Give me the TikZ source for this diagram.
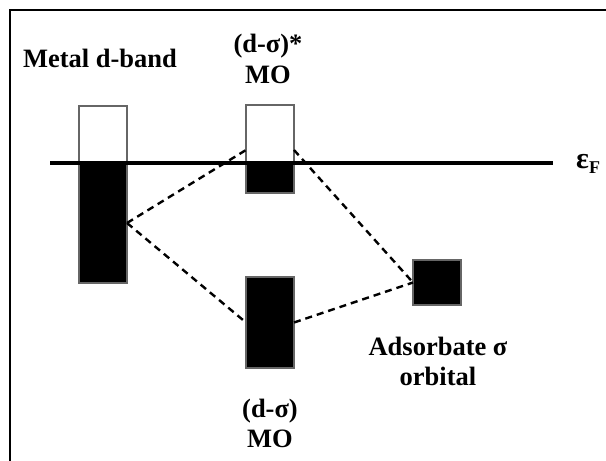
\documentclass[tikz,border=0pt]{standalone}
\usepackage{fontspec}
\setmainfont{Liberation Serif}
\usetikzlibrary{calc}
\begin{document}
\begin{tikzpicture}[x=1pt,y=-1pt,
  emptybox/.style={draw=black!60,line width=1.2pt,fill=white,minimum width=48pt,inner sep=0pt,outer sep=0pt,anchor=north west},
  fullbox/.style={draw=black!60,line width=1.2pt,fill=black,minimum width=48pt,inner sep=0pt,outer sep=0pt,anchor=north west},
  link/.style={dashed,dash pattern=on 7pt off 5pt,line width=2.4pt},
  lbl/.style={font=\fontsize{26.5}{30}\selectfont\bfseries,align=center,inner sep=0pt}]
\useasboundingbox (0,0) rectangle (606,461);
\clip (0,0) rectangle (606,461);
\fill[white] (0,0) rectangle (606,461);
\draw[line width=2pt] (10,10) rectangle (640,500);
% boxes
\node[emptybox,minimum height=57pt] (mw) at (79,106) {};
\node[fullbox,minimum height=120pt] (mb) at (79,163) {};
\node[emptybox,minimum height=58pt] (uw) at (246,105) {};
\node[fullbox,minimum height=30pt] (ub) at (246,163) {};
\node[fullbox,minimum height=91pt] (lb) at (246,277) {};
\node[fullbox,minimum height=45pt] (ab) at (413,260) {};
% Fermi level
\coordinate (fl) at (50,163);
\coordinate (fr) at (553,163);
\draw[line width=3.5pt] (fl) -- (fr);
\node[lbl,anchor=west] (ef) at (576,164) {\fontsize{30}{30}\selectfont ε\raisebox{-0.35ex}{\fontsize{18}{20}\selectfont F}};
% dashed connectors
\draw[link] (mb.east) -- ([yshift=13pt]uw.south west);
\draw[link] (mb.east) -- (lb.west);
\draw[link] ([yshift=13pt]uw.south east) -- (ab.west);
\draw[link] (lb.east) -- (ab.west);
% labels
\node[lbl,anchor=base] (tmetal) at (100,67) {Metal d-band};
\node[lbl,anchor=base] (tup1) at (268,52) {(d-σ)*};
\node[lbl,anchor=base] (tup2) at (268,83) {MO};
\node[lbl,anchor=base] (tad1) at (438,355) {Adsorbate σ};
\node[lbl,anchor=base] (tad2) at (438,385) {orbital};
\node[lbl,anchor=base] (tlo1) at (270,417) {(d-σ)};
\node[lbl,anchor=base] (tlo2) at (270,447) {MO};
\end{tikzpicture}
\end{document}
